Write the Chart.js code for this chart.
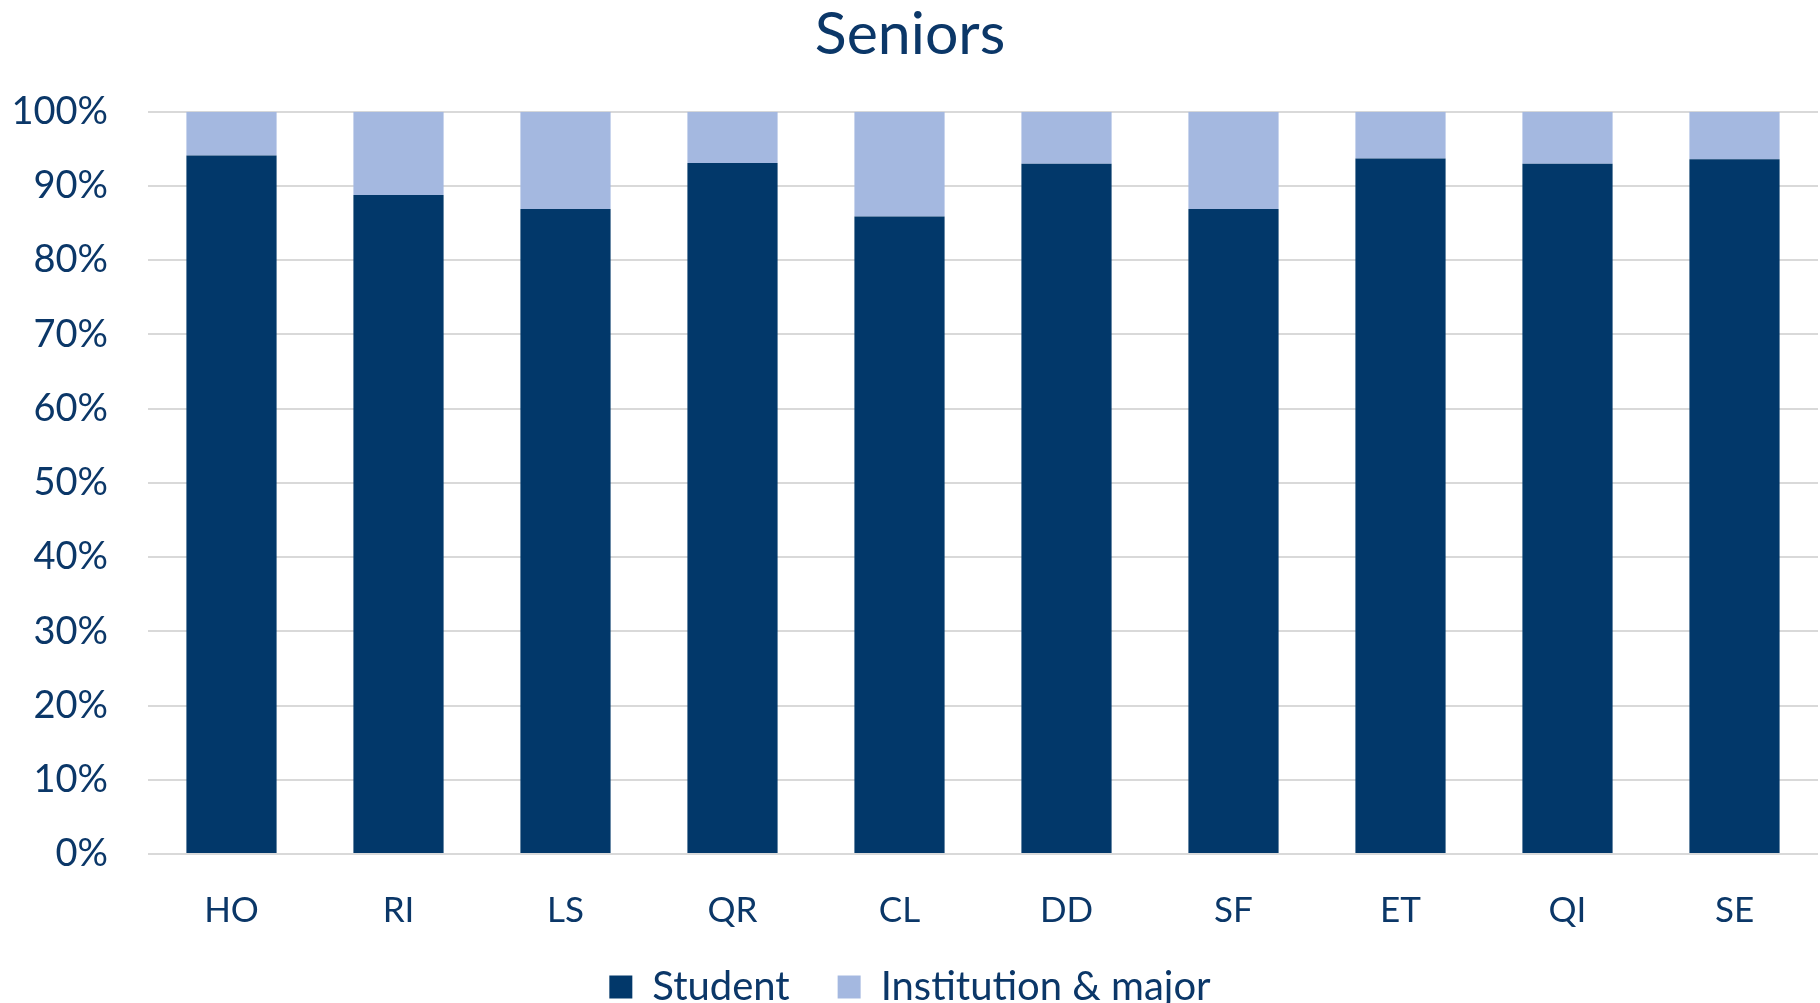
<!DOCTYPE html>
<html>
<head>
<meta charset="utf-8">
<title>Seniors</title>
<script src="https://cdn.jsdelivr.net/npm/chart.js@4/dist/chart.umd.min.js"></script>
<style>
  html, body { margin: 0; padding: 0; background: #fff; }
  #wrap { width: 1820px; height: 1003px; }
</style>
</head>
<body>
<div id="wrap"><canvas id="seniorsChart" width="1820" height="1003"></canvas></div>
<script>
'use strict';

var categories = ['HO', 'RI', 'LS', 'QR', 'CL', 'DD', 'SF', 'ET', 'QI', 'SE'];
var studentValues = [94.1, 88.8, 86.9, 93.1, 85.9, 93.0, 86.9, 93.7, 93.0, 93.6];
var institutionValues = studentValues.map(function (v) { return +(100 - v).toFixed(1); });
var yTicks = [0, 10, 20, 30, 40, 50, 60, 70, 80, 90, 100];

var textColor = '#0b3768';
var fontFamily = 'Lato, "Open Sans", sans-serif';

(function initSeniorsChart() {
  var canvas = document.getElementById('seniorsChart');
  if (!(canvas instanceof HTMLCanvasElement) || typeof window.Chart !== 'function') return;

  new Chart(canvas.getContext('2d'), {
    type: 'bar',
    data: {
      labels: categories,
      datasets: [{
        label: 'Student',
        data: studentValues,
        backgroundColor: '#02386a',
        borderWidth: 0
      }, {
        label: 'Institution & major',
        data: institutionValues,
        backgroundColor: '#a4b8e0',
        borderWidth: 0
      }]
    },
    options: {
      animation: false,
      responsive: false,
      devicePixelRatio: 1,
      layout: { padding: { left: 2, right: 2, top: 0, bottom: -14 } },
      datasets: { bar: { categoryPercentage: 1, barPercentage: 0.54 } },
      scales: {
        x: {
          stacked: true,
          grid: { display: false },
          border: { display: false },
          ticks: { color: textColor, font: { family: fontFamily, size: 35 }, padding: 28 }
        },
        y: {
          stacked: true,
          min: 0,
          max: 100,
          afterBuildTicks: function (axis) { axis.ticks = yTicks.map(function (v) { return { value: v }; }); },
          afterFit: function (axis) { axis.width = 146; },
          grid: { color: '#d9d9d9', lineWidth: 2, drawTicks: false },
          border: { display: false },
          ticks: {
            color: textColor,
            font: { family: fontFamily, size: 38 },
            padding: 40,
            callback: function (v) { return v + '%'; }
          }
        }
      },
      plugins: {
        title: {
          display: true,
          text: 'Seniors',
          color: textColor,
          font: { family: fontFamily, size: 59, weight: 'normal' },
          padding: { top: 0, bottom: 41 }
        },
        legend: {
          position: 'bottom',
          labels: {
            color: textColor,
            font: { family: fontFamily, size: 40 },
            boxWidth: 23,
            boxHeight: 23,
            padding: 7,
            generateLabels: function (chart) {
              var items = Chart.defaults.plugins.legend.labels.generateLabels(chart);
              if (items.length) items[0].text += '    ';
              return items;
            }
          }
        },
        tooltip: { enabled: false }
      }
    }
  });
})();
</script>
</body>
</html>
